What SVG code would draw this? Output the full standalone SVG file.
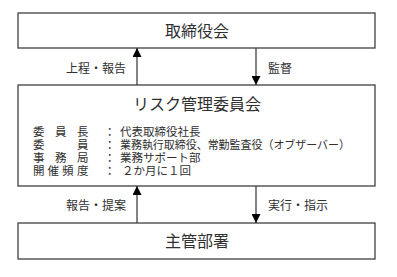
<svg xmlns="http://www.w3.org/2000/svg" width="397" height="277" viewBox="0 0 397 277">
<style>
.box{fill:#fff;stroke:#404040;stroke-width:1.3}
.t{font-family:"Noto Sans CJK JP","Noto Sans",sans-serif;fill:#303030}
.big{font-size:16px}
.lbl{font-size:12px}
.d{font-size:11.5px}
.line{stroke:#404040;stroke-width:1.3;fill:none}
</style>
<defs>
<marker id="ah" viewBox="0 0 10 10" refX="10" refY="5" markerWidth="9" markerHeight="9" markerUnits="userSpaceOnUse" orient="auto">
<path d="M0,0 L10,5 L0,10 z" fill="#000"/>
</marker>
</defs>
<rect width="397" height="277" fill="#fff"/>
<g id="board">
<rect class="box" x="18" y="13" width="357" height="35"/>
<text class="t big" x="197" y="37" text-anchor="middle">取締役会</text>
</g>
<g id="committee">
<rect class="box" x="18" y="85" width="357" height="101"/>
<text class="t big" x="197" y="110" text-anchor="middle">リスク管理委員会</text>
<text class="t d"><tspan x="33 55 77" y="136">委員長</tspan><tspan x="104" y="136">：</tspan><tspan x="120" y="136">代表取締役社長</tspan><tspan x="33 77" y="149">委員</tspan><tspan x="104" y="149">：</tspan><tspan x="120" y="149" textLength="230" lengthAdjust="spacingAndGlyphs">業務執行取締役、常勤監査役（オブザーバー）</tspan><tspan x="33 55 77" y="162">事務局</tspan><tspan x="104" y="162">：</tspan><tspan x="120" y="162">業務サポート部</tspan><tspan x="33 47.5 62 77" y="175">開催頻度</tspan><tspan x="104" y="175">：</tspan><tspan x="122" y="175">２か月に１回</tspan></text>
</g>
<g id="dept">
<rect class="box" x="18" y="223" width="357" height="36"/>
<text class="t big" x="197" y="247" text-anchor="middle">主管部署</text>
</g>
<g id="connectors">
<line class="line" x1="137" y1="85" x2="137" y2="48" marker-end="url(#ah)"/>
<line class="line" x1="256" y1="48" x2="256" y2="85" marker-end="url(#ah)"/>
<line class="line" x1="137" y1="223" x2="137" y2="186" marker-end="url(#ah)"/>
<line class="line" x1="256" y1="186" x2="256" y2="223" marker-end="url(#ah)"/>
<text class="t lbl" x="126" y="73" text-anchor="end">上程・報告</text>
<text class="t lbl" x="268" y="73">監督</text>
<text class="t lbl" x="126" y="210" text-anchor="end">報告・提案</text>
<text class="t lbl" x="268" y="210">実行・指示</text>
</g>
</svg>
